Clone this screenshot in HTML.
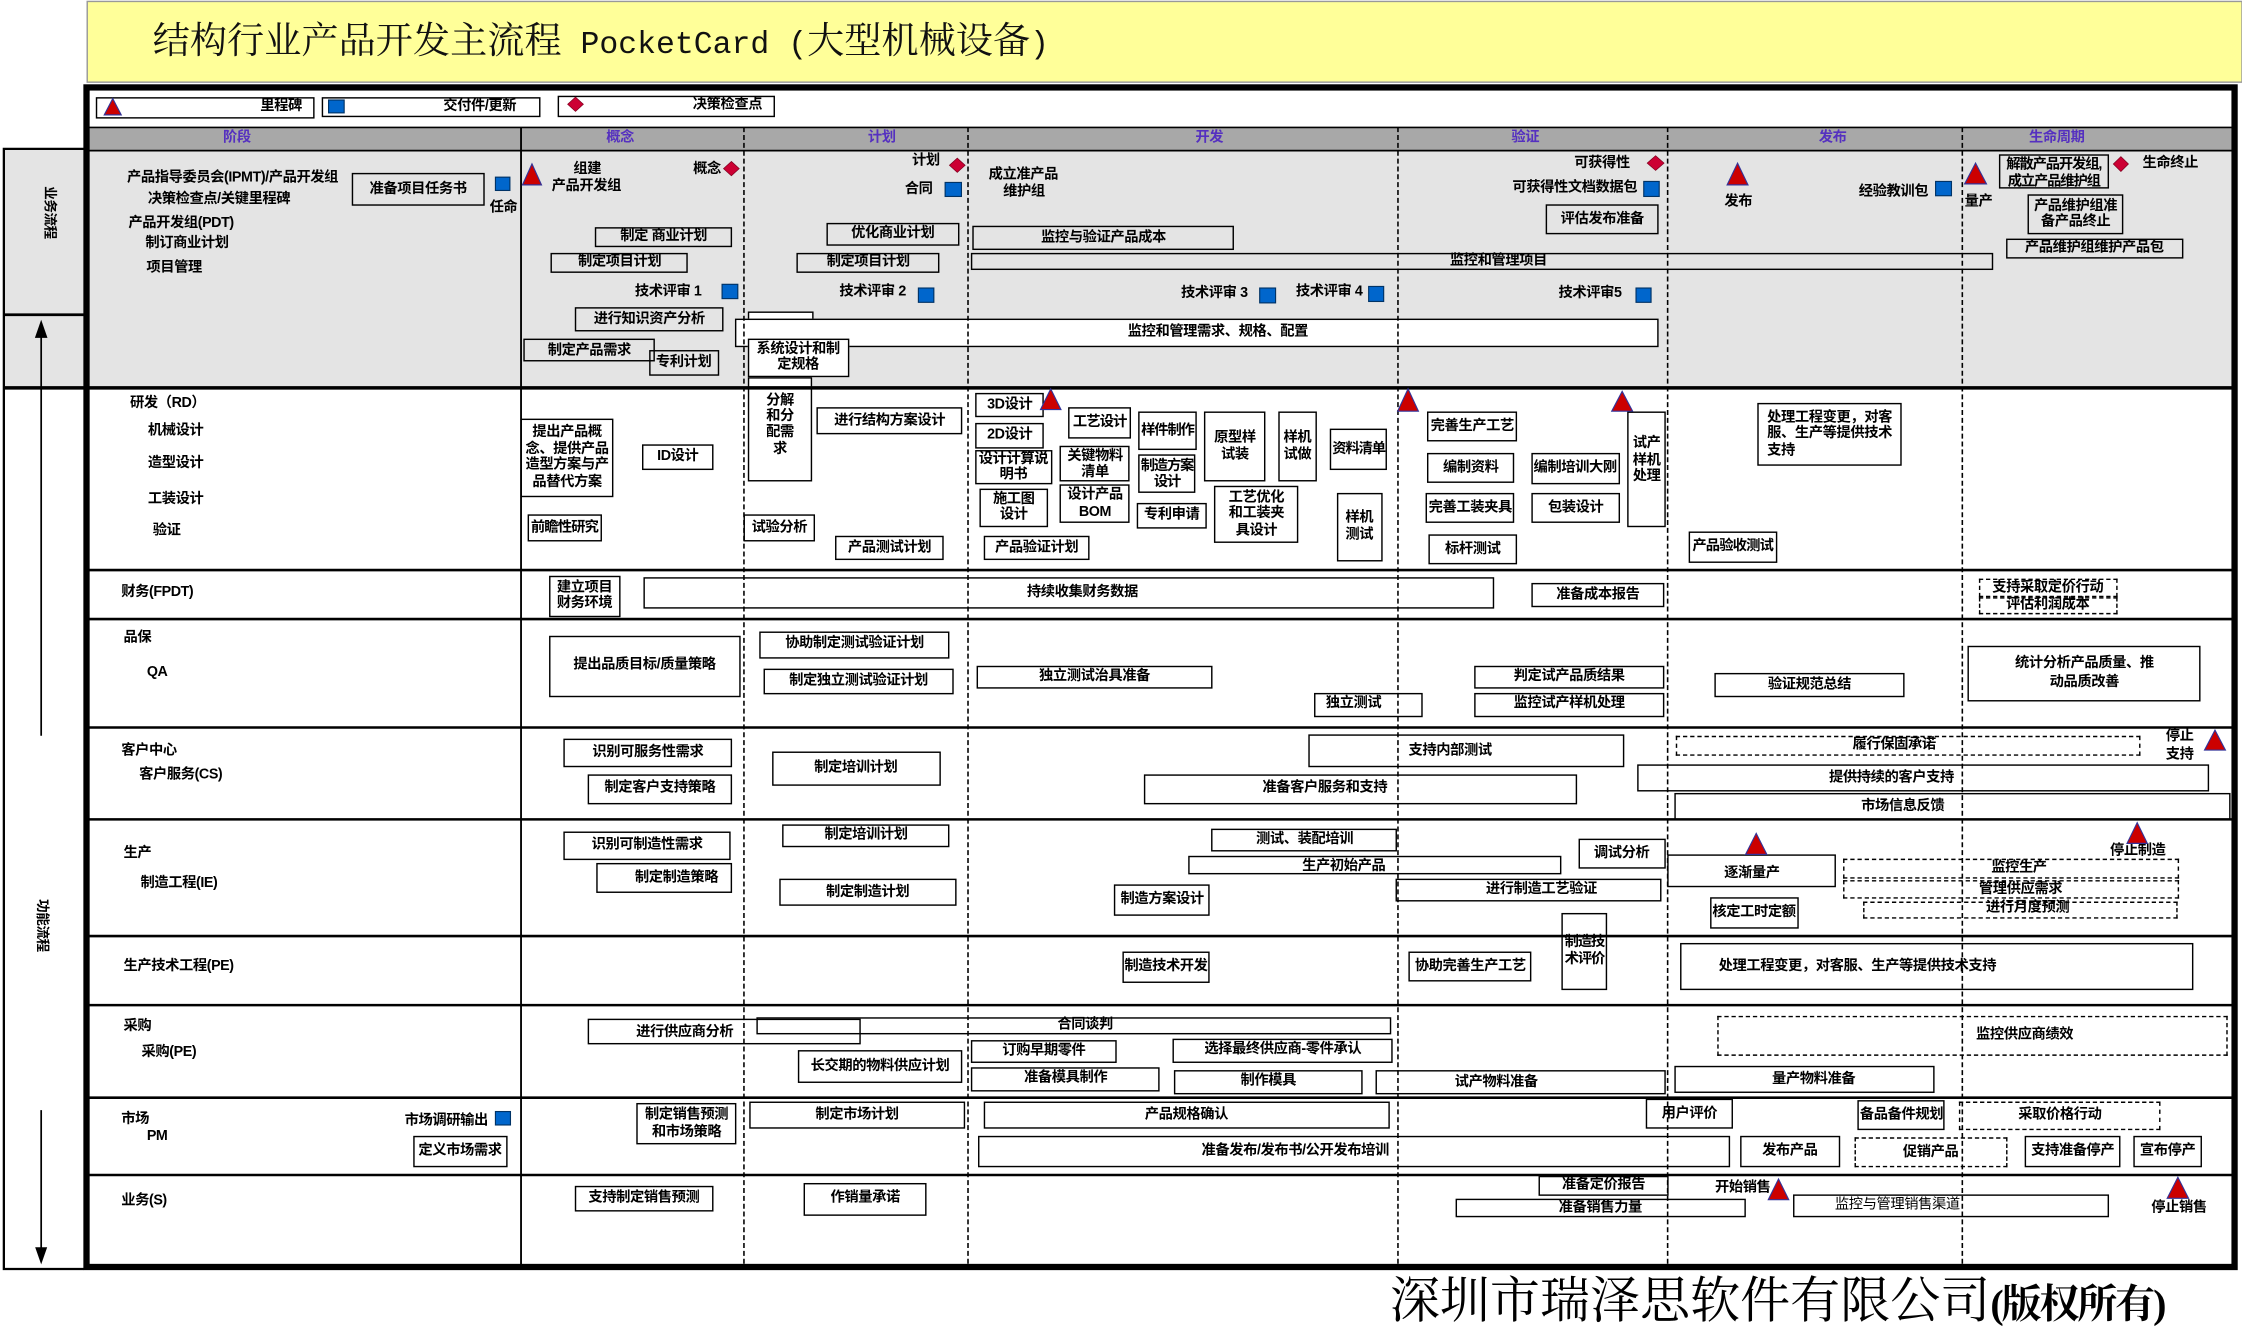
<!DOCTYPE html>
<html><head><meta charset="utf-8">
<style>
html,body{margin:0;padding:0;background:#fff;width:2242px;height:1333px;overflow:hidden}
#s{position:absolute;left:0;top:0;width:1568px;height:933px;transform:scale(1.42985,1.42872);transform-origin:0 0;font-family:"Liberation Sans","Noto Sans CJK SC",sans-serif;font-weight:bold;font-size:10px;letter-spacing:-0.3px;color:#000}
.b{position:absolute;box-sizing:border-box;border:1.4px solid #000;display:flex;align-items:center;justify-content:center;text-align:center;line-height:1.16;white-space:nowrap}
.l{justify-content:flex-start}
.d{border:1.3px dashed #000}
.w{background:#fff}
.t{position:absolute;white-space:nowrap;line-height:1}
.h{position:absolute;top:92px;color:#5530C0;line-height:1;white-space:nowrap}
svg{position:absolute;left:0;top:0}
.m{font-family:"Liberation Mono",monospace;font-size:22px}
</style></head><body><div id="s">
<svg width="1568" height="933" viewBox="0 0 1568 933">
<rect x="61" y="1" width="1507" height="56.5" fill="#FFFF99" stroke="#999" stroke-width="1"/>
<rect x="60.5" y="89" width="1502.5" height="16.4" fill="#A8A8A8"/>
<rect x="60.5" y="105.4" width="1502.5" height="166" fill="#E4E4E4"/>
<rect x="2.7" y="104.2" width="56" height="167" fill="#E4E4E4"/>
</svg>

<div class="t" style="left:106.8px;top:15.5px;font-size:26px;font-weight:normal;letter-spacing:0;font-family:'Liberation Serif','Noto Serif CJK SC',serif;color:#111">结构行业产品开发主流程<span class="m"> PocketCard (</span>大型机械设备<span class="m">)</span></div>

<!-- legend -->
<div class="b w" style="left:66.8px;top:68px;width:152.9px;height:14.8px;border-width:1.2px"></div>
<div class="t" style="left:182px;top:70px">里程碑</div>
<div class="b w" style="left:224.8px;top:67.6px;width:153.2px;height:14.4px;border-width:1.2px"></div>
<div class="t" style="left:310px;top:69.5px">交付件/更新</div>
<div class="b w" style="left:389.9px;top:67px;width:152px;height:14.6px;border-width:1.2px"></div>
<div class="t" style="left:484.5px;top:69px">决策检查点</div>

<!-- header -->
<div class="h" style="left:156px">阶段</div>
<div class="h" style="left:424px">概念</div>
<div class="h" style="left:607px">计划</div>
<div class="h" style="left:836px">开发</div>
<div class="h" style="left:1057px">验证</div>
<div class="h" style="left:1272px">发布</div>
<div class="h" style="left:1419px">生命周期</div>

<!-- left panel texts -->
<div class="t" style="left:9px;top:144px;width:50px;text-align:center;font-size:9.5px;transform:rotate(90deg)">业务流程</div>
<div class="t" style="left:4px;top:643px;width:50px;text-align:center;font-size:9.5px;transform:rotate(90deg)">功能流程</div>

<!-- business area -->
<div class="t" style="left:88.8px;top:119.5px">产品指导委员会(IPMT)/产品开发组</div>
<div class="t" style="left:103.4px;top:134.5px">决策检查点/关键里程碑</div>
<div class="t" style="left:89.8px;top:152.2px">产品开发组(PDT)</div>
<div class="t" style="left:101.7px;top:166.2px">制订商业计划</div>
<div class="t" style="left:102.4px;top:182.5px">项目管理</div>
<div class="b" style="left:245.8px;top:120.7px;width:93.2px;height:23.3px">准备项目任务书</div>
<div class="t" style="left:342.4px;top:140.5px">任命</div>
<div class="t" style="left:401px;top:113.5px">组建</div>
<div class="t" style="left:385.8px;top:125.5px">产品开发组</div>
<div class="t" style="left:484.8px;top:113.5px">概念</div>
<div class="b" style="left:416.3px;top:158.5px;width:95.7px;height:14.5px">制定 商业计划</div>
<div class="b" style="left:385.4px;top:176.5px;width:96px;height:14.5px">制定项目计划</div>
<div class="t" style="left:444px;top:200px">技术评审 1</div>
<div class="b" style="left:402.4px;top:215px;width:103.4px;height:17px">进行知识资产分析</div>
<div class="b" style="left:366px;top:237.3px;width:92.3px;height:16.1px">制定产品需求</div>
<div class="b" style="left:453.6px;top:245.2px;width:49.1px;height:17.5px">专利计划</div>
<div class="t" style="left:637.8px;top:108px">计划</div>
<div class="t" style="left:632.8px;top:127.5px">合同</div>
<div class="b" style="left:577.8px;top:155.7px;width:93.2px;height:16.3px">优化商业计划</div>
<div class="b" style="left:557.2px;top:177.2px;width:100px;height:13.9px">制定项目计划</div>
<div class="t" style="left:587px;top:200px">技术评审 2</div>
<div class="b w" style="left:522.6px;top:217.5px;width:46.4px;height:12px"></div>
<div class="b w" style="left:514px;top:223.3px;width:646px;height:19.7px"></div>
<div class="t" style="left:788.7px;top:227.5px">监控和管理需求、规格、配置</div>
<div class="b w" style="left:522.6px;top:236.6px;width:71.2px;height:27.3px">系统设计和制<br>定规格</div>
<div class="t" style="left:691.4px;top:118.4px">成立准产品</div>
<div class="t" style="left:701.6px;top:129.5px">维护组</div>
<div class="b" style="left:680.2px;top:158px;width:183.1px;height:17.3px">监控与验证产品成本</div>
<div class="b" style="left:679.2px;top:177.2px;width:715.1px;height:12.1px"></div>
<div class="t" style="left:1014px;top:178px">监控和管理项目</div>
<div class="t" style="left:826px;top:201px">技术评审 3</div>
<div class="t" style="left:906.3px;top:200px">技术评审 4</div>
<div class="t" style="left:1101px;top:110.2px">可获得性</div>
<div class="t" style="left:1057.7px;top:126.5px">可获得性文档数据包</div>
<div class="b" style="left:1081.4px;top:142.9px;width:78.4px;height:21.4px">评估发布准备</div>
<div class="t" style="left:1090px;top:201px">技术评审5</div>
<div class="t" style="left:1206px;top:137px">发布</div>
<div class="t" style="left:1300px;top:130px">经验教训包</div>
<div class="t" style="left:1374px;top:137px">量产</div>
<div class="b" style="left:1397.7px;top:108.2px;width:77.3px;height:24.2px;letter-spacing:-0.8px;line-height:1.2;align-items:flex-start;padding-top:1px;overflow:hidden">解散产品开发组,<br>成立产品维护组</div>
<div class="t" style="left:1498.4px;top:110.2px">生命终止</div>
<div class="b" style="left:1418px;top:136.4px;width:67.2px;height:27.9px">产品维护组准<br>备产品终止</div>
<div class="b" style="left:1402.8px;top:167.4px;width:123.8px;height:13.2px">产品维护组维护产品包</div>

<!-- RD -->
<div class="t" style="left:90.9px;top:278px">研发（RD）</div>
<div class="t" style="left:103.4px;top:296.5px">机械设计</div>
<div class="t" style="left:103.4px;top:320px">造型设计</div>
<div class="t" style="left:103.4px;top:344.5px">工装设计</div>
<div class="t" style="left:106.8px;top:366.5px">验证</div>
<div class="b" style="left:364.4px;top:293.2px;width:64.4px;height:54.5px;line-height:1.15">提出产品概<br>念、提供产品<br>造型方案与产<br>品替代方案</div>
<div class="b" style="left:449px;top:311.2px;width:50px;height:18.1px">ID设计</div>
<div class="b" style="left:368.5px;top:360px;width:52.5px;height:19.2px;letter-spacing:-0.6px">前瞻性研究</div>
<div class="b" style="left:520.2px;top:360px;width:49.8px;height:19.2px">试验分析</div>
<div class="b w" style="left:522.6px;top:263.9px;width:45.8px;height:72.9px;line-height:1.12;padding-bottom:6px">分解<br>和分<br>配需<br>求</div>
<div class="b" style="left:571px;top:285px;width:102.4px;height:19.2px">进行结构方案设计</div>
<div class="b" style="left:584.3px;top:374.6px;width:75.6px;height:17.7px">产品测试计划</div>
<div class="b" style="left:682px;top:274.6px;width:48.4px;height:17.9px">3D设计</div>
<div class="b" style="left:682px;top:295.5px;width:48.4px;height:18px">2D设计</div>
<div class="b" style="left:682px;top:315.1px;width:53.5px;height:24px;line-height:1.1">设计计算说<br>明书</div>
<div class="b" style="left:684.6px;top:341.5px;width:48.8px;height:27.9px">施工图<br>设计</div>
<div class="b" style="left:747.3px;top:285px;width:43.7px;height:22.2px;letter-spacing:-0.6px">工艺设计</div>
<div class="b" style="left:741.2px;top:312.3px;width:49.2px;height:24.5px;line-height:1.1">关键物料<br>清单</div>
<div class="b" style="left:741.2px;top:339.1px;width:49.2px;height:27.3px">设计产品<br>BOM</div>
<div class="b" style="left:796.2px;top:288.3px;width:40.6px;height:27px;letter-spacing:-0.8px;overflow:hidden">样件制作</div>
<div class="b" style="left:796.2px;top:318.1px;width:40px;height:26.9px;letter-spacing:-0.8px;overflow:hidden;line-height:1.1">制造方案<br>设计</div>
<div class="b" style="left:794.8px;top:352px;width:49.2px;height:17.9px">专利申请</div>
<div class="b" style="left:842px;top:288.3px;width:43.3px;height:48.5px">原型样<br>试装</div>
<div class="b" style="left:849px;top:339.8px;width:59.4px;height:40.1px;line-height:1.15">工艺优化<br>和工装夹<br>具设计</div>
<div class="b" style="left:893.8px;top:288.3px;width:27.1px;height:48.5px">样机<br>试做</div>
<div class="b" style="left:930.4px;top:300px;width:39.6px;height:28.6px;letter-spacing:-0.8px">资料清单</div>
<div class="b" style="left:934.5px;top:344.5px;width:32.2px;height:48.9px">样机<br>测试</div>
<div class="b" style="left:687.7px;top:374.6px;width:74.6px;height:17.7px">产品验证计划</div>
<div class="b" style="left:998.2px;top:288.3px;width:62.9px;height:21.2px">完善生产工艺</div>
<div class="b" style="left:997.9px;top:317px;width:61.5px;height:21.4px">编制资料</div>
<div class="b" style="left:997.2px;top:344.5px;width:62.2px;height:21.9px">完善工装夹具</div>
<div class="b" style="left:998.9px;top:373.6px;width:62.2px;height:21.9px">标杆测试</div>
<div class="b" style="left:1070.6px;top:317.4px;width:62px;height:21.7px">编制培训大刚</div>
<div class="b" style="left:1071.3px;top:344.5px;width:61.3px;height:21.9px">包装设计</div>
<div class="b" style="left:1137.7px;top:287.8px;width:27.8px;height:81.6px;padding-bottom:12px;line-height:1.15">试产<br>样机<br>处理</div>
<div class="b l" style="left:1228.9px;top:282px;width:101.1px;height:44.3px;padding-left:6px;text-align:left;line-height:1.15">处理工程变更，对客<br>服、生产等提供技术<br>支持</div>
<div class="b" style="left:1180.8px;top:371.8px;width:62px;height:22.1px;letter-spacing:-0.6px">产品验收测试</div>

<!-- Finance -->
<div class="t" style="left:84.8px;top:409.7px">财务(FPDT)</div>
<div class="b" style="left:383.7px;top:402.8px;width:50.3px;height:28.9px;line-height:1.12">建立项目<br>财务环境</div>
<div class="b l" style="left:450.2px;top:403.7px;width:595.1px;height:22.4px;padding-left:267px">持续收集财务数据</div>
<div class="b" style="left:1071.3px;top:407.9px;width:92.5px;height:17.5px">准备成本报告</div>
<div class="b d" style="left:1383.5px;top:404.9px;width:97.3px;height:12.8px">支持采取定价行动</div>
<div class="b d" style="left:1383.5px;top:417.7px;width:97.3px;height:12.8px">评估利润成本</div>

<!-- QA -->
<div class="t" style="left:86.4px;top:442.3px">品保</div>
<div class="t" style="left:102.7px;top:466px">QA</div>
<div class="b" style="left:384px;top:444.5px;width:133.6px;height:43.4px">提出品质目标/质量策略</div>
<div class="b" style="left:531px;top:441.7px;width:133.3px;height:19.1px">协助制定测试验证计划</div>
<div class="b" style="left:533.8px;top:468px;width:133.2px;height:18px">制定独立测试验证计划</div>
<div class="b" style="left:683px;top:465.7px;width:165px;height:16.8px">独立测试治具准备</div>
<div class="b l" style="left:919.2px;top:484.8px;width:76.3px;height:16.8px;padding-left:7px">独立测试</div>
<div class="b" style="left:1031px;top:465.7px;width:132.8px;height:16.8px">判定试产品质结果</div>
<div class="b" style="left:1031px;top:484.8px;width:132.8px;height:16.8px">监控试产样机处理</div>
<div class="b" style="left:1199.4px;top:470.8px;width:132.2px;height:17.5px">验证规范总结</div>
<div class="b" style="left:1376.4px;top:452.2px;width:162.7px;height:38.4px;line-height:1.3">统计分析产品质量、推<br>动品质改善</div>

<!-- CS -->
<div class="t" style="left:84.8px;top:520.5px">客户中心</div>
<div class="t" style="left:97.3px;top:538px">客户服务(CS)</div>
<div class="b" style="left:394.3px;top:517px;width:117.7px;height:19.6px">识别可服务性需求</div>
<div class="b" style="left:411px;top:541.5px;width:101px;height:21.5px">制定客户支持策略</div>
<div class="b" style="left:539.5px;top:525.6px;width:118px;height:24.9px">制定培训计划</div>
<div class="b l" style="left:915.1px;top:514.4px;width:221px;height:22.9px;padding-left:69px">支持内部测试</div>
<div class="b l" style="left:799.9px;top:541.5px;width:303.5px;height:21.5px;padding-left:82px">准备客户服务和支持</div>
<div class="b d l" style="left:1171.6px;top:514.6px;width:325.4px;height:14px;padding-left:123px">履行保固承诺</div>
<div class="t" style="left:1514.7px;top:511px">停止</div>
<div class="t" style="left:1514.7px;top:523.8px">支持</div>
<div class="b l" style="left:1145.2px;top:535px;width:400px;height:18.6px;padding-left:133px">提供持续的客户支持</div>
<div class="b l" style="left:1170.6px;top:554.8px;width:389.2px;height:19.2px;padding-left:130px">市场信息反馈</div>

<!-- Production -->
<div class="t" style="left:86.4px;top:592.5px">生产</div>
<div class="t" style="left:98.3px;top:614px">制造工程(IE)</div>
<div class="b" style="left:394.3px;top:582.3px;width:116.6px;height:19.7px">识别可制造性需求</div>
<div class="b l" style="left:417px;top:603.7px;width:95px;height:21.3px;padding-left:26px">制定制造策略</div>
<div class="b" style="left:547px;top:576.9px;width:117.3px;height:16.3px">制定培训计划</div>
<div class="b" style="left:544.6px;top:614.6px;width:124.4px;height:19.9px">制定制造计划</div>
<div class="b" style="left:847.3px;top:579.7px;width:130.2px;height:16.3px">测试、装配培训</div>
<div class="b" style="left:831px;top:599px;width:260.6px;height:12.9px"></div>
<div class="t" style="left:910.7px;top:602px">生产初始产品</div>
<div class="b" style="left:779.2px;top:619.3px;width:67.1px;height:21.7px">制造方案设计</div>
<div class="b" style="left:1103.5px;top:586.8px;width:61.3px;height:21.6px">调试分析</div>
<div class="b l" style="left:976.2px;top:615.2px;width:185.9px;height:16px;padding-left:62px">进行制造工艺验证</div>
<div class="b" style="left:1166.2px;top:598px;width:118px;height:22.6px;align-items:flex-end;padding-bottom:2px">逐渐量产</div>
<div class="b" style="left:1195.7px;top:627.6px;width:62px;height:22.1px">核定工时定额</div>
<div class="b d" style="left:1289.3px;top:601px;width:234.5px;height:14px"></div>
<div class="t" style="left:1392.6px;top:603px">监控生产</div>
<div class="b d" style="left:1289.3px;top:616px;width:234.5px;height:13.4px"></div>
<div class="t" style="left:1384px;top:617.5px">管理供应需求</div>
<div class="b d" style="left:1302.8px;top:630.6px;width:220.4px;height:12.8px"></div>
<div class="t" style="left:1389px;top:631px">进行月度预测</div>
<div class="t" style="left:1475.7px;top:590.5px">停止制造</div>

<!-- PE -->
<div class="t" style="left:86.4px;top:672px">生产技术工程(PE)</div>
<div class="b" style="left:784.6px;top:665.5px;width:61.7px;height:22.1px">制造技术开发</div>
<div class="b" style="left:985.3px;top:666px;width:86px;height:21.2px">协助完善生产工艺</div>
<div class="b" style="left:1092px;top:638.7px;width:32.2px;height:54.1px;letter-spacing:-0.8px;line-height:1.15">制造技<br>术评价</div>
<div class="b l" style="left:1175px;top:660.4px;width:359.3px;height:32.6px;padding-left:26px">处理工程变更，对客服、生产等提供技术支持</div>

<!-- Purchasing -->
<div class="t" style="left:86.4px;top:713.7px">采购</div>
<div class="t" style="left:99px;top:731.5px">采购(PE)</div>
<div class="b l" style="left:410.9px;top:713px;width:191.4px;height:17.7px;padding-left:33px;padding-top:2px">进行供应商分析</div>
<div class="b" style="left:529.4px;top:711.6px;width:444px;height:12.6px"></div>
<div class="t" style="left:739.5px;top:713px">合同谈判</div>
<div class="b" style="left:557.5px;top:734.7px;width:115.9px;height:23.3px">长交期的物料供应计划</div>
<div class="b" style="left:679.2px;top:727.7px;width:101.7px;height:16.3px">订购早期零件</div>
<div class="b" style="left:820.2px;top:726.5px;width:153.9px;height:17.5px">选择最终供应商-零件承认</div>
<div class="b" style="left:679.2px;top:746.6px;width:132.2px;height:17.2px">准备模具制作</div>
<div class="b" style="left:820.9px;top:748.7px;width:132.2px;height:17px">制作模具</div>
<div class="b l" style="left:962.3px;top:748.8px;width:203.2px;height:17.4px;padding-left:54px">试产物料准备</div>
<div class="b d l" style="left:1201px;top:711px;width:357px;height:28px;padding-left:180px">监控供应商绩效</div>
<div class="b l" style="left:1171.3px;top:746.4px;width:181.3px;height:18.2px;padding-left:67px">量产物料准备</div>

<!-- Market -->
<div class="t" style="left:84.8px;top:779px">市场</div>
<div class="t" style="left:102.7px;top:791px">PM</div>
<div class="t" style="left:283px;top:780px">市场调研输出</div>
<div class="b" style="left:288.5px;top:795px;width:66.5px;height:22.2px">定义市场需求</div>
<div class="b" style="left:445px;top:772.4px;width:70.3px;height:28.6px;line-height:1.15">制定销售预测<br>和市场策略</div>
<div class="b" style="left:523.6px;top:770.8px;width:151.5px;height:19.4px">制定市场计划</div>
<div class="b" style="left:687.7px;top:770.8px;width:284.1px;height:19.4px">产品规格确认</div>
<div class="b l" style="left:684.3px;top:795.3px;width:526px;height:21.3px;padding-left:155px">准备发布/发布书/公开发布培训</div>
<div class="b" style="left:1151px;top:768.8px;width:61px;height:21.5px">用户评价</div>
<div class="b" style="left:1217px;top:795.4px;width:69.5px;height:21.2px">发布产品</div>
<div class="b" style="left:1299.4px;top:769.7px;width:61px;height:21.7px">备品备件规划</div>
<div class="b d" style="left:1370px;top:771px;width:141.3px;height:20px">采取价格行动</div>
<div class="b d" style="left:1296.7px;top:796px;width:107.1px;height:20.6px">促销产品</div>
<div class="b" style="left:1415.7px;top:795.4px;width:67.8px;height:21.2px">支持准备停产</div>
<div class="b" style="left:1492px;top:795.4px;width:48px;height:21.2px">宣布停产</div>

<!-- Sales -->
<div class="t" style="left:84.8px;top:836px">业务(S)</div>
<div class="b" style="left:401.7px;top:829.5px;width:97.3px;height:18.5px">支持制定销售预测</div>
<div class="b" style="left:562.2px;top:827.5px;width:85.8px;height:23.3px">作销量承诺</div>
<div class="b" style="left:1075.7px;top:823.4px;width:91.5px;height:13.5px">准备定价报告</div>
<div class="b" style="left:1017.5px;top:839.1px;width:203.3px;height:13.4px">准备销售力量</div>
<div class="t" style="left:1199.4px;top:827px">开始销售</div>
<div class="b l" style="left:1254.3px;top:835.7px;width:220.7px;height:16.8px;padding-left:28px;font-weight:normal">监控与管理销售渠道</div>
<div class="t" style="left:1504.5px;top:841px">停止销售</div>

<!-- footer -->
<div class="t" style="left:972px;top:893px;font-size:35px;font-weight:normal;letter-spacing:0;font-family:'Liberation Serif','Noto Serif CJK SC',serif">深圳市瑞泽思软件有限公司<span style="font-size:28px;font-weight:bold;letter-spacing:-1.5px">(版权所有)</span></div>

<!-- top layer lines and symbols -->
<svg width="1568" height="933" viewBox="0 0 1568 933">
<g fill="none" stroke="#000">
<path d="M60 89.2H1563M60 105.4H1563" stroke-width="1.2"/>
<path d="M364.4 89V886" stroke-width="1.3"/>
<path d="M520.3 89V886M677 89V886M977.7 89V886M1166.3 89V886M1372.4 89V886" stroke-width="1.1" stroke-dasharray="3.5,2"/>
<path d="M60 399H1563M60 433.3H1563M60 509.2H1563M60 573.5H1563M60 655.2H1563M60 703.5H1563M60 768.3H1563M60 822.4H1563" stroke-width="1.8"/>
<path d="M2.7 271.5H1563" stroke-width="2.5"/>
<path d="M58.5 104.2H2.7V888.2H58.5" stroke-width="1.6"/>
<path d="M2.7 220.3H58.5" stroke-width="2"/>
<path d="M28.8 515V234M28.8 777V876" stroke-width="1.2"/>
<rect x="60.5" y="61.2" width="1502.3" height="825.6" stroke-width="4.4"/>
</g>
<polygon points="24.4,236.5 33.2,236.5 28.8,223.8" fill="#000"/>
<polygon points="24.6,873 33,873 28.8,885" fill="#000"/>
<g fill="#CC0000" stroke="#333399" stroke-width="0.8">
<polygon points="72.9,80.4 84.8,80.4 78.85,69"/>
<polygon points="365.4,129.4 378.7,129.4 372.05,114.7"/>
<polygon points="727.7,286.7 742,286.7 734.85,272.2"/>
<polygon points="977.5,287.8 992,287.8 984.75,272.2"/>
<polygon points="1127.2,287.8 1141.8,287.8 1134.5,273.9"/>
<polygon points="1207.9,129.4 1222.5,129.4 1215.2,114.2"/>
<polygon points="1374,128.7 1389.3,128.7 1381.65,114.2"/>
<polygon points="1541.8,525 1556.4,525 1549.1,511"/>
<polygon points="1220.8,598 1235.7,598 1228.25,583.3"/>
<polygon points="1487.6,590.3 1501.8,590.3 1494.7,575.8"/>
<polygon points="1236.7,839.7 1251,839.7 1243.85,825.2"/>
<polygon points="1515.7,838.7 1530.6,838.7 1523.15,824"/>
</g>
<g fill="#CC0033" stroke="#800020" stroke-width="0.5">
<polygon points="402.5,68 408,73 402.5,78 397,73"/>
<polygon points="511.5,113 517,118 511.5,123 506,118"/>
<polygon points="669.5,110.7 675,115.7 669.5,120.7 664,115.7"/>
<polygon points="1157.9,109 1163.8,114.15 1157.9,119.3 1152,114.15"/>
<polygon points="1483.3,109.6 1488.6,114.8 1483.3,120 1478,114.8"/>
</g>
<g fill="#0066CC" stroke="#003366" stroke-width="0.8">
<rect x="229.8" y="70" width="10.9" height="9"/>
<rect x="346.5" y="124" width="10.1" height="9.3"/>
<rect x="505" y="199" width="11" height="10"/>
<rect x="661" y="127.7" width="11.4" height="9.8"/>
<rect x="642.3" y="201.6" width="10.8" height="10"/>
<rect x="881" y="201.6" width="11.1" height="10.4"/>
<rect x="957.2" y="200.5" width="10.5" height="10.5"/>
<rect x="1149.6" y="127" width="10.8" height="10.5"/>
<rect x="1144.2" y="201.6" width="10.5" height="10"/>
<rect x="1353.7" y="127" width="11.1" height="10"/>
<rect x="346.5" y="778" width="10.5" height="9.4"/>
</g>
</svg>
</div></body></html>
